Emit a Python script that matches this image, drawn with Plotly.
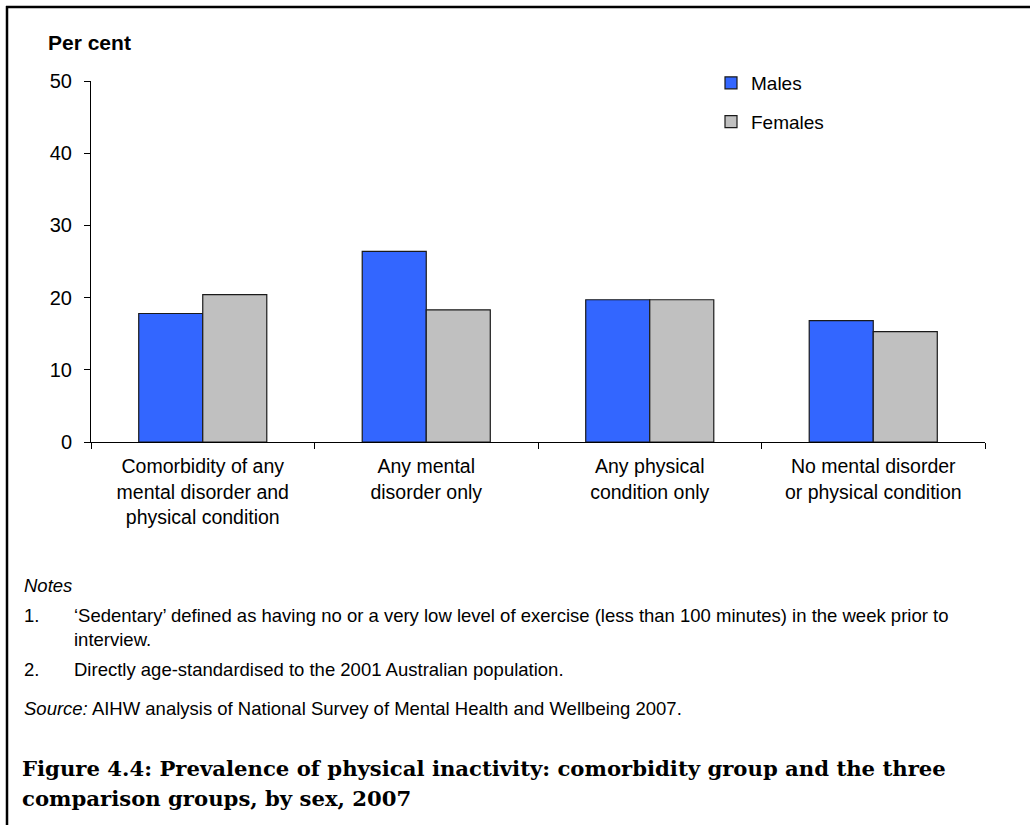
import plotly.graph_objects as go

categories = [
    "Comorbidity of any<br>mental disorder and<br>physical condition",
    "Any mental<br>disorder only",
    "Any physical<br>condition only",
    "No mental disorder<br>or physical condition",
]
males = [17.8, 26.4, 19.7, 16.8]
females = [20.4, 18.3, 19.7, 15.3]
y_ticks = [0, 10, 20, 30, 40, 50]

W, H = 1030, 825
L, R, T, B = 91, 985, 81, 442  # plot area in pixels


def px(x):
    return (x - L) / (R - L)


def py(y):
    return (B - y) / (B - T)


fig = go.Figure()
fig.add_trace(go.Bar(
    name="Males", x=categories, y=males,
    marker=dict(color="#3366FF", line=dict(color="#1a1a1a", width=1.2)),
    legendgroup="m",
))
fig.add_trace(go.Bar(
    name="Females", x=categories, y=females,
    marker=dict(color="#C0C0C0", line=dict(color="#1a1a1a", width=1.2)),
    legendgroup="f",
))

font_sans = "Arial, Liberation Sans, sans-serif"

fig.update_layout(
    width=W, height=H,
    margin=dict(l=L, r=W - R, t=T, b=H - B, pad=0),
    paper_bgcolor="white", plot_bgcolor="white",
    barmode="group", bargap=0.427, bargroupgap=0,
    font=dict(family=font_sans, color="black", size=20),
    showlegend=True,
    legend=dict(
        x=px(711), y=py(64), xanchor="left", yanchor="top",
        font=dict(size=19, family=font_sans),
        traceorder="grouped", tracegroupgap=11,
        bgcolor="rgba(0,0,0,0)", itemwidth=30,
    ),
    xaxis=dict(
        showline=True, linecolor="black", linewidth=1,
        ticks="outside", tickson="boundaries", ticklen=6, tickcolor="black",
        tickfont=dict(size=19.5), ticklabelstandoff=7,
        showgrid=False, zeroline=False,
    ),
    yaxis=dict(
        range=[0, 50], tickvals=y_ticks,
        showline=True, linecolor="black", linewidth=1,
        ticks="outside", ticklen=6, tickcolor="black",
        tickfont=dict(size=20), ticklabelstandoff=8,
        showgrid=False, zeroline=False,
    ),
)

# Frame
fig.add_shape(type="line", xref="paper", yref="paper",
              x0=px(6), x1=px(1032), y0=py(7), y1=py(7),
              line=dict(color="black", width=2.5))
fig.add_shape(type="line", xref="paper", yref="paper",
              x0=px(7), x1=px(7), y0=py(6), y1=py(830),
              line=dict(color="black", width=2.5))


def note(x, y, text, size=18.5, family=font_sans):
    fig.add_annotation(x=px(x), y=py(y), xref="paper", yref="paper",
                       text=text, showarrow=False, xanchor="left",
                       yanchor="middle", align="left",
                       font=dict(size=size, family=family, color="black"))


note(46, 43, "<b>Per cent</b>", size=21)
note(22, 585, "<i>Notes</i>")
note(22, 615, "1.")
note(72, 615, "‘Sedentary’ defined as having no or a very low level of exercise (less than 100 minutes) in the week prior to")
note(72, 639, "interview.")
note(22, 669, "2.")
note(72, 669, "Directly age-standardised to the 2001 Australian population.")
note(22, 708, "<i>Source:</i> AIHW analysis of National Survey of Mental Health and Wellbeing 2007.")
serif = "DejaVu Serif, Liberation Serif, serif"
note(20, 768, "<b>Figure 4.4: Prevalence of physical inactivity: comorbidity group and the three</b>", size=21.2, family=serif)
note(20, 798, "<b>comparison groups, by sex, 2007</b>", size=21.2, family=serif)

fig.write_html("out.html", config={"displayModeBar": False},
               post_script="document.body.style.margin='0';document.body.style.padding='0';")
